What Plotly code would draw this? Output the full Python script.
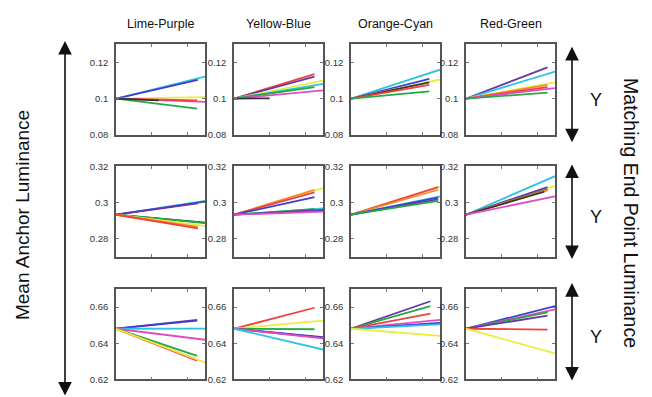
import plotly.graph_objects as go

W, H = 652, 397

columns = ["Lime-Purple", "Yellow-Blue", "Orange-Cyan", "Red-Green"]
anchors = [0.1, 0.2933, 0.648]
y_ranges = [[0.08, 0.13], [0.27, 0.32], [0.62, 0.67]]
y_ticks = [[0.08, 0.1, 0.12], [0.28, 0.3, 0.32], [0.62, 0.64, 0.66]]
y_ticktext = [["0.08", "0.1", "0.12"], ["0.28", "0.3", "0.32"], ["0.62", "0.64", "0.66"]]

C = {
    "b": "#3d3dd0", "c": "#2cc4e0", "y": "#ecec3c", "r": "#f04040",
    "g": "#22aa44", "m": "#e04cc4", "p": "#6a35a8", "o": "#f08a30",
    "k": "#333333",
}

# line colours, end x and end luminance per panel; row 0 = low, 1 = mid, 2 = high
low_colors = [
    ["c", "b", "y", "m", "r", "g", "k"],
    ["r", "p", "y", "c", "g", "m", "k"],
    ["c", "b", "y", "k", "r", "g"],
    ["p", "c", "y", "o", "r", "m", "g"],
]
low_x = [
    [2.5, 2.3, 2.5, 2.5, 2.28, 2.28, 1.2],
    [2.26, 2.26, 2.5, 2.5, 2.26, 2.5, 1.0],
    [2.5, 2.2, 2.5, 2.2, 2.2, 2.2],
    [2.29, 2.5, 2.5, 2.29, 2.29, 2.5, 2.29],
]
low_y = [
    [0.1122, 0.1104, 0.1009, 0.0982, 0.0991, 0.0945, 0.0990],
    [0.1136, 0.1122, 0.1100, 0.1082, 0.1064, 0.1046, 0.1002],
    [0.1160, 0.1109, 0.1106, 0.1090, 0.1076, 0.1040],
    [0.1173, 0.1150, 0.1090, 0.1076, 0.1064, 0.1058, 0.1033],
]

mid_colors = [
    ["c", "b", "p", "k", "g", "y", "o", "r"],
    ["y", "o", "r", "b", "c", "g", "p", "m"],
    ["y", "r", "o", "c", "b", "p", "g"],
    ["c", "y", "p", "g", "r", "o", "k", "m"],
]
mid_x = [
    [2.5, 2.5, 2.3, 2.5, 2.5, 2.5, 2.3, 2.3],
    [2.5, 2.26, 2.26, 2.26, 2.5, 2.26, 2.5, 2.5],
    [2.5, 2.45, 2.45, 2.5, 2.45, 2.45, 2.45],
    [2.5, 2.5, 2.29, 2.29, 2.29, 2.29, 2.2, 2.5],
]
mid_y = [
    [0.3009, 0.3005, 0.2996, 0.2889, 0.2887, 0.2871, 0.2866, 0.2857],
    [0.3080, 0.3071, 0.3057, 0.3030, 0.2968, 0.2964, 0.2959, 0.2950],
    [0.3089, 0.3086, 0.3071, 0.3035, 0.3027, 0.3018, 0.3009],
    [0.3146, 0.3093, 0.3086, 0.3075, 0.3071, 0.3068, 0.3060, 0.3035],
]

high_colors = [
    ["p", "b", "c", "m", "g", "o", "r", "y"],
    ["r", "y", "g", "b", "p", "m", "c"],
    ["p", "g", "r", "m", "b", "c", "y"],
    ["b", "m", "g", "p", "r", "y"],
]
high_x = [
    [2.28, 2.28, 2.5, 2.5, 2.28, 2.28, 2.28, 2.5],
    [2.26, 2.5, 2.26, 2.5, 2.5, 2.5, 2.5],
    [2.23, 2.23, 2.23, 2.5, 2.5, 2.5, 2.5],
    [2.5, 2.5, 2.29, 2.29, 2.29, 2.5],
]
high_y = [
    [0.6529, 0.6525, 0.6481, 0.6419, 0.6330, 0.6310, 0.6303, 0.6294],
    [0.6596, 0.6525, 0.6477, 0.6433, 0.6430, 0.6427, 0.6365],
    [0.6632, 0.6605, 0.6564, 0.6529, 0.6512, 0.6504, 0.6440],
    [0.6605, 0.6587, 0.6570, 0.6552, 0.6475, 0.6344],
]

rows_colors = [low_colors, mid_colors, high_colors]
rows_x = [low_x, mid_x, high_x]
rows_y = [low_y, mid_y, high_y]

# panel frames in pixels
col_left = [116, 234, 351, 466]
col_width = 89
row_top = [39.5, 165, 291]
row_height = 93

FONT = "Arial, Liberation Sans, Helvetica, sans-serif"
fig = go.Figure()
layout = dict(
    width=W, height=H, margin=dict(l=0, r=0, t=0, b=0),
    paper_bgcolor="white", plot_bgcolor="white", showlegend=False,
    font=dict(family=FONT, color="#222"),
)

annotations = []
n = 0
for r in range(3):
    for c in range(4):
        n += 1
        sx = "" if n == 1 else str(n)
        x0 = col_left[c] / W
        x1 = (col_left[c] + col_width) / W
        y1 = 1 - row_top[r] / H
        y0 = 1 - (row_top[r] + row_height) / H
        axis_line = dict(showline=True, linecolor="#555", linewidth=1.7, mirror="ticks",
                         ticks="inside", ticklen=3, tickcolor="#777", showgrid=False,
                         zeroline=False)
        layout["xaxis" + sx] = dict(domain=[x0, x1], range=[0, 2.5], anchor="y" + sx,
                                    tickvals=[1, 2], showticklabels=False, **axis_line)
        layout["yaxis" + sx] = dict(domain=[y0, y1], range=y_ranges[r], anchor="x" + sx,
                                    tickvals=y_ticks[r], ticktext=y_ticktext[r],
                                    tickfont=dict(size=9.5, color="#333", family=FONT),
                                    ticklabelstandoff=4, **axis_line)
        for col, xe, ye in zip(rows_colors[r][c], rows_x[r][c], rows_y[r][c]):
            fig.add_trace(go.Scatter(
                x=[0, xe], y=[anchors[r], ye], mode="lines",
                line=dict(color=C[col], width=1.8),
                xaxis="x" + sx, yaxis="y" + sx, hoverinfo="skip",
                cliponaxis=True,
            ))

# column titles
for c, name in enumerate(columns):
    annotations.append(dict(
        text=name, x=(col_left[c] + col_width / 2) / W, y=1 - 18 / H,
        xref="paper", yref="paper", xanchor="center", yanchor="middle", showarrow=False,
        font=dict(size=12.5, color="#111", family=FONT),
    ))

# left axis description with long double arrow
annotations.append(dict(
    text="Mean Anchor Luminance", x=22 / W, y=1 - 215 / H, xref="paper", yref="paper",
    xanchor="center", yanchor="middle",
    showarrow=False, textangle=-90, font=dict(size=19, color="#111", family=FONT),
))
annotations.append(dict(
    text="", x=65 / W, y=1 - 36 / H, xref="paper", yref="paper",
    ax=0, ay=358, axref="pixel", ayref="pixel", showarrow=True,
    arrowhead=2, arrowsize=1.7, arrowwidth=1.6, arrowcolor="#111",
    arrowside="end+start",
))

# right side: one double arrow and a "Y" per row
arrow_spans = [(42, 139), (163, 259), (285, 384)]
for r, (top, bot) in enumerate(arrow_spans):
    annotations.append(dict(
        text="", x=572 / W, y=1 - top / H, xref="paper", yref="paper",
        ax=0, ay=bot - top, axref="pixel", ayref="pixel", showarrow=True,
        arrowhead=2, arrowsize=1.7, arrowwidth=1.6, arrowcolor="#111",
        arrowside="end+start",
    ))
    annotations.append(dict(
        text="Y", x=596 / W, y=1 - ((top + bot) / 2 + 6) / H, xref="paper", yref="paper",
        xanchor="center", yanchor="middle",
        showarrow=False, font=dict(size=18, color="#111", family=FONT),
    ))

annotations.append(dict(
    text="Matching End Point Luminance", x=631 / W, y=1 - 213 / H,
    xref="paper", yref="paper", xanchor="center", yanchor="middle",
    showarrow=False, textangle=90,
    font=dict(size=19.5, color="#111", family=FONT),
))

layout["annotations"] = annotations
fig.update_layout(**layout)
fig.write_html("out.html")
